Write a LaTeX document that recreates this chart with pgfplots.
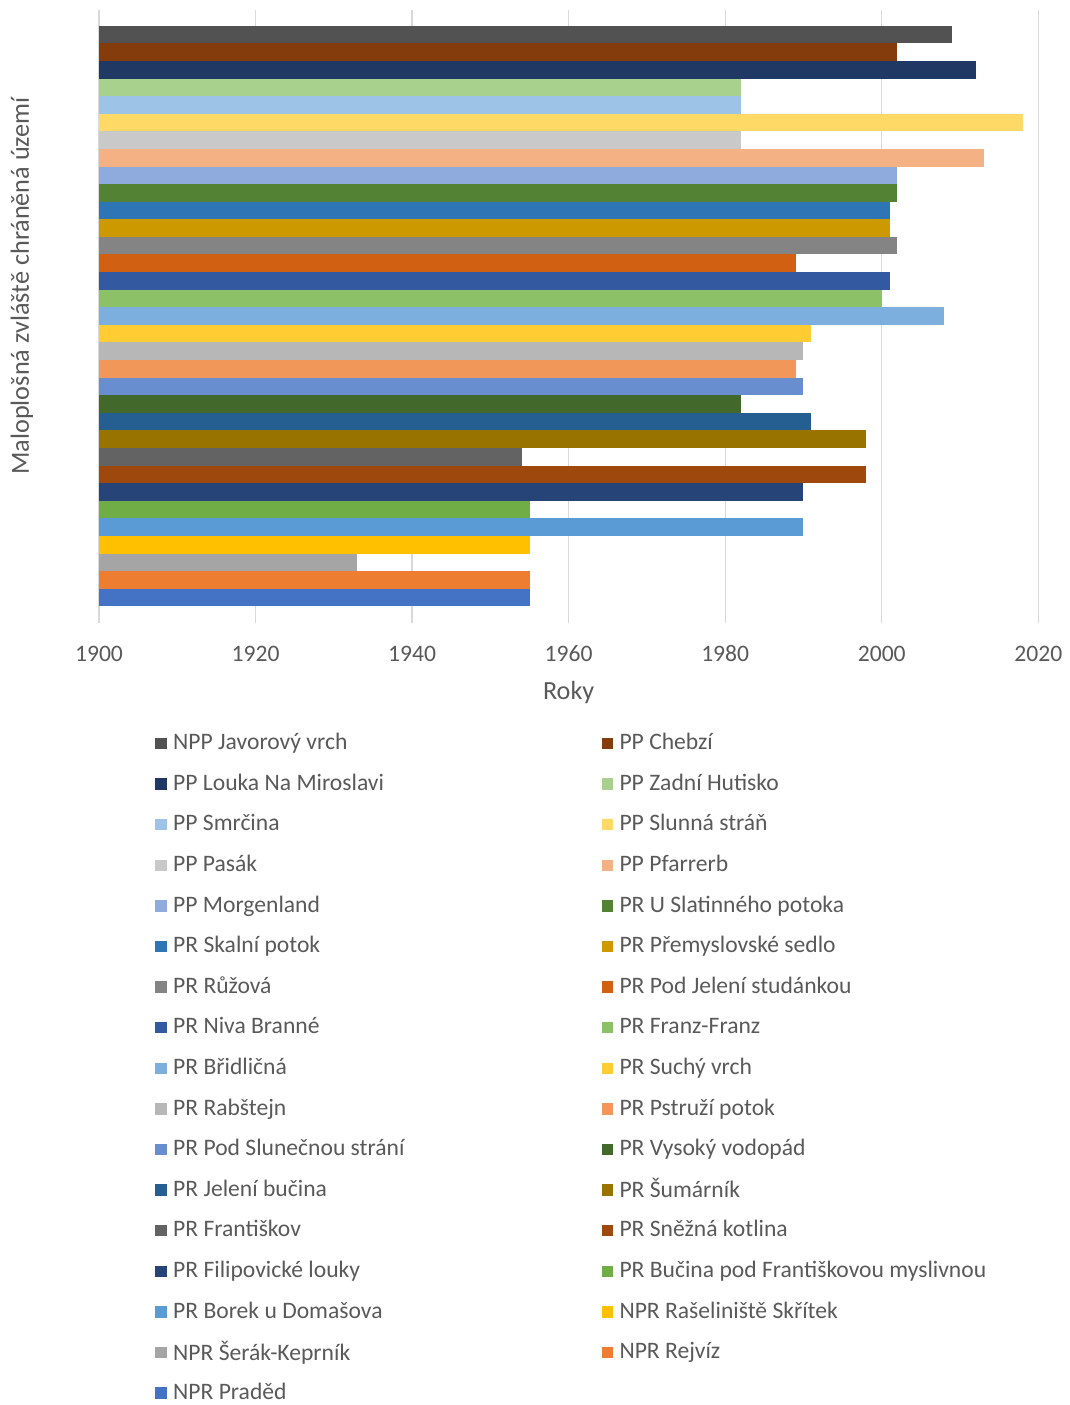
\documentclass[border=0pt]{standalone}
\usepackage{fontspec}
\setmainfont{Carlito}
\usepackage{pgfplots}
\pgfplotsset{compat=1.18}

% text and grid colours
\definecolor{txt}{HTML}{595959}
\definecolor{gridc}{HTML}{D9D9D9}
% series colours (top bar first)
\definecolor{c01}{HTML}{525252}
\definecolor{c02}{HTML}{843C0C}
\definecolor{c03}{HTML}{203864}
\definecolor{c04}{HTML}{A9D18E}
\definecolor{c05}{HTML}{9DC3E6}
\definecolor{c06}{HTML}{FFD966}
\definecolor{c07}{HTML}{C9C9C9}
\definecolor{c08}{HTML}{F4B183}
\definecolor{c09}{HTML}{8FAADC}
\definecolor{c10}{HTML}{548235}
\definecolor{c11}{HTML}{2E75B6}
\definecolor{c12}{HTML}{CC9A00}
\definecolor{c13}{HTML}{848484}
\definecolor{c14}{HTML}{D26012}
\definecolor{c15}{HTML}{335AA1}
\definecolor{c16}{HTML}{8CC168}
\definecolor{c17}{HTML}{7CAFDD}
\definecolor{c18}{HTML}{FFCD33}
\definecolor{c19}{HTML}{B7B7B7}
\definecolor{c20}{HTML}{F1975A}
\definecolor{c21}{HTML}{698ED0}
\definecolor{c22}{HTML}{43682B}
\definecolor{c23}{HTML}{255E91}
\definecolor{c24}{HTML}{997300}
\definecolor{c25}{HTML}{636363}
\definecolor{c26}{HTML}{9E480E}
\definecolor{c27}{HTML}{264478}
\definecolor{c28}{HTML}{70AD47}
\definecolor{c29}{HTML}{5B9BD5}
\definecolor{c30}{HTML}{FFC000}
\definecolor{c31}{HTML}{A5A5A5}
\definecolor{c32}{HTML}{ED7D31}
\definecolor{c33}{HTML}{4472C4}

\pgfplotsset{
  onebar/.style={xbar, bar width=1, bar shift=0pt, draw=none, fill=#1,
    legend image code/.code={\fill[##1] (0pt,-7pt) rectangle (11.5pt,4.5pt);}},
}

\begin{document}
\begin{tikzpicture}[x=1pt,y=1pt]
\path[use as bounding box] (-99,-782) rectangle (971,623);
\begin{axis}[
  at={(0,0)}, anchor=south west,
  scale only axis, width=939.3pt, height=613pt,
  xmin=1900, xmax=2020, ymin=-0.392, ymax=34.44, y dir=reverse,
  xtick={1900,1920,...,2020}, ytick=\empty,
  xmajorgrids, major grid style={draw=gridc, line width=1.4pt},
  axis line style={draw=none}, major tick length=0pt,
  tick label style={font=\fontsize{23.6}{28}\selectfont, text=txt},
  /pgf/number format/assume math mode=true,
  /pgf/number format/set thousands separator={},
  xticklabel style={anchor=base, yshift=-38.5pt},
  xlabel={Roky}, ylabel={Maloplošná zvláště chráněná území},
  label style={font=\fontsize{26.2}{30}\selectfont, text=txt},
  xlabel style={at={(axis description cs:0.5,-0.1126)}, anchor=center},
  ylabel style={at={(axis description cs:-0.082,0.55)}, anchor=center},
  legend columns=2,
  legend cell align=left,
  legend style={at={(axis description cs:0.0596,-0.161)}, anchor=north west,
    draw=none, fill=none, inner sep=0pt,
    font=\fontsize{23.6}{28}\selectfont, text=txt,
    nodes={inner xsep=6.5pt, inner ysep=0pt, minimum height=40.6pt},
    /tikz/every even column/.append style={column sep=190.5pt},
    row sep=0pt},
]
\addplot[onebar=c01] coordinates {(2009,1)};  \addlegendentry{NPP Javorový vrch}
\addplot[onebar=c02] coordinates {(2002,2)};  \addlegendentry{PP Chebzí}
\addplot[onebar=c03] coordinates {(2012,3)};  \addlegendentry{PP Louka Na Miroslavi}
\addplot[onebar=c04] coordinates {(1982,4)};  \addlegendentry{PP Zadní Hutisko}
\addplot[onebar=c05] coordinates {(1982,5)};  \addlegendentry{PP Smrčina}
\addplot[onebar=c06] coordinates {(2018,6)};  \addlegendentry{PP Slunná stráň}
\addplot[onebar=c07] coordinates {(1982,7)};  \addlegendentry{PP Pasák}
\addplot[onebar=c08] coordinates {(2013,8)};  \addlegendentry{PP Pfarrerb}
\addplot[onebar=c09] coordinates {(2002,9)};  \addlegendentry{PP Morgenland}
\addplot[onebar=c10] coordinates {(2002,10)}; \addlegendentry{PR U Slatinného potoka}
\addplot[onebar=c11] coordinates {(2001,11)}; \addlegendentry{PR Skalní potok}
\addplot[onebar=c12] coordinates {(2001,12)}; \addlegendentry{PR Přemyslovské sedlo}
\addplot[onebar=c13] coordinates {(2002,13)}; \addlegendentry{PR Růžová}
\addplot[onebar=c14] coordinates {(1989,14)}; \addlegendentry{PR Pod Jelení studánkou}
\addplot[onebar=c15] coordinates {(2001,15)}; \addlegendentry{PR Niva Branné}
\addplot[onebar=c16] coordinates {(2000,16)}; \addlegendentry{PR Franz-Franz}
\addplot[onebar=c17] coordinates {(2008,17)}; \addlegendentry{PR Břidličná}
\addplot[onebar=c18] coordinates {(1991,18)}; \addlegendentry{PR Suchý vrch}
\addplot[onebar=c19] coordinates {(1990,19)}; \addlegendentry{PR Rabštejn}
\addplot[onebar=c20] coordinates {(1989,20)}; \addlegendentry{PR Pstruží potok}
\addplot[onebar=c21] coordinates {(1990,21)}; \addlegendentry{PR Pod Slunečnou strání}
\addplot[onebar=c22] coordinates {(1982,22)}; \addlegendentry{PR Vysoký vodopád}
\addplot[onebar=c23] coordinates {(1991,23)}; \addlegendentry{PR Jelení bučina}
\addplot[onebar=c24] coordinates {(1998,24)}; \addlegendentry{PR Šumárník}
\addplot[onebar=c25] coordinates {(1954,25)}; \addlegendentry{PR Františkov}
\addplot[onebar=c26] coordinates {(1998,26)}; \addlegendentry{PR Sněžná kotlina}
\addplot[onebar=c27] coordinates {(1990,27)}; \addlegendentry{PR Filipovické louky}
\addplot[onebar=c28] coordinates {(1955,28)}; \addlegendentry{PR Bučina pod Františkovou myslivnou}
\addplot[onebar=c29] coordinates {(1990,29)}; \addlegendentry{PR Borek u Domašova}
\addplot[onebar=c30] coordinates {(1955,30)}; \addlegendentry{NPR Rašeliniště Skřítek}
\addplot[onebar=c31] coordinates {(1933,31)}; \addlegendentry{NPR Šerák-Keprník}
\addplot[onebar=c32] coordinates {(1955,32)}; \addlegendentry{NPR Rejvíz}
\addplot[onebar=c33] coordinates {(1955,33)}; \addlegendentry{NPR Praděd}
\end{axis}
\end{tikzpicture}
\end{document}
